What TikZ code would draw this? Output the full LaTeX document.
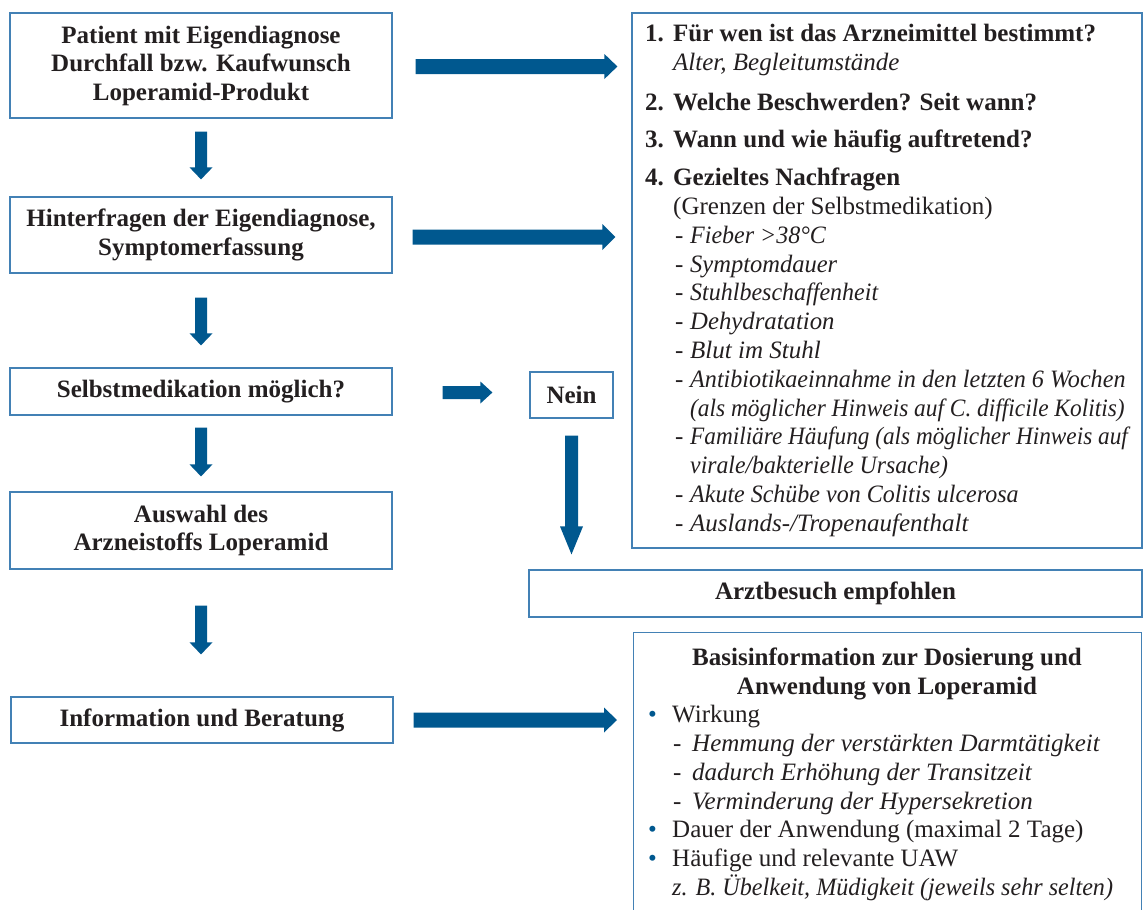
\documentclass[tikz,border=0pt]{standalone}
\usepackage{fontspec}
\usepackage{graphicx}
\setmainfont{Liberation Serif}
\usetikzlibrary{calc}
\definecolor{ablue}{HTML}{00588F}
\definecolor{bline}{HTML}{4381B5}
\definecolor{ink}{HTML}{231F20}
\newcommand\hblockarrow[5]{%
  \fill[ablue] let \p1=#1, \p2=#2 in
    (\x1,\y1+#3) -- (\x2-#5,\y1+#3) -- (\x2-#5,\y1+#4) -- (\x2,\y1)
    -- (\x2-#5,\y1-#4) -- (\x2-#5,\y1-#3) -- (\x1,\y1-#3) -- cycle;}
\newcommand\vblockarrow[5]{%
  \fill[ablue] let \p1=#1, \p2=#2 in
    (\x1-#3,\y1) -- (\x1+#3,\y1) -- (\x1+#3,\y2+#5) -- (\x1+#4,\y2+#5) -- (\x1,\y2)
    -- (\x1-#4,\y2+#5) -- (\x1-#3,\y2+#5) -- cycle;}
\newcommand\sqit[2]{\scalebox{#1}[1]{\textit{#2}}}
\begin{document}
\begin{tikzpicture}[x=1pt,y=1pt,
  every node/.style={text=ink},
  box/.style={draw=bline, line width=1.2pt, rectangle, inner sep=0pt, align=center,
    font=\fontsize{25}{28.5}\selectfont\bfseries},
  ln/.style={anchor=base west, inner sep=0pt, font=\fontsize{25}{28.5}\selectfont},
  ttl/.style={anchor=base, inner sep=0pt, font=\fontsize{25}{28.5}\selectfont\bfseries}]
\useasboundingbox (0,0) rectangle (1144,-910);
\clip (0,0) rectangle (1144,-910);
% left column
\node[box, minimum width=382, minimum height=105] (b1) at (201,-65.5)
  {Patient mit Eigendiagnose\\Durchfall bzw. Kaufwunsch\\Loperamid-Produkt};
\node[box, minimum width=382, minimum height=76] (b2) at (201,-235)
  {Hinterfragen der Eigendiagnose,\\Symptomerfassung};
\node[box, minimum width=382, minimum height=47] (b3) at (201,-391.5)
  {Selbstmedikation möglich?};
\node[box, minimum width=382, minimum height=77] (b4) at (201,-530.5)
  {Auswahl des\\Arzneistoffs Loperamid};
\node[box, minimum width=382, minimum height=46] (b5) at (202,-720)
  {Information und Beratung};
% middle / right
\node[box, minimum width=83, minimum height=46] (nein) at (571.5,-395) {Nein};
\node[box, minimum width=510, minimum height=535] (r1) at (887,-280.5) {};
\node[box, minimum width=613, minimum height=47] (arzt) at (835.5,-593.5) {Arztbesuch empfohlen};
\node[box, minimum width=508, minimum height=300, anchor=north west] (r3) at (633,-632) {};
% arrows
\hblockarrow{($(b1.east)+(23,-1)$)}{($(b1.east -| r1.west)+(-14,0)$)}{7.5}{12.5}{13}
\hblockarrow{($(b2.east)+(20,-2)$)}{($(b2.east -| r1.west)+(-16,0)$)}{7.5}{13}{13}
\hblockarrow{($(b3.east)+(50,-1)$)}{($(b3.east -| nein.west)+(-37,0)$)}{6.5}{11}{12}
\hblockarrow{($(b5.east)+(20,0)$)}{($(b5.east -| r3.west)+(-16,0)$)}{7.5}{12.5}{13}
\vblockarrow{($(b1.south)+(0,-13)$)}{($(b2.north)+(0,17)$)}{6}{11.5}{12}
\vblockarrow{($(b2.south)+(0,-24)$)}{($(b3.north)+(0,22)$)}{6}{11.5}{12}
\vblockarrow{($(b3.south)+(0,-12)$)}{($(b4.north)+(0,15)$)}{6}{11.5}{12}
\vblockarrow{($(b4.south)+(0,-36)$)}{($(b5.north)+(0,42)$)}{6}{11.5}{12}
\vblockarrow{($(nein.south)+(0,-17)$)}{($(nein.south |- arzt.north)+(0,15)$)}{6.5}{11.5}{28}
% right top box text
\node[ln] (q1) at (645,-41.7) {\textbf{\makebox[28pt][l]{1.}Für wen ist das Arzneimittel bestimmt?}};
\node[ln] (q1a) at (673,-70) {\textit{Alter, Begleitumstände}};
\node[ln] (q2) at (645,-110) {\textbf{\makebox[28pt][l]{2.}Welche Beschwerden? Seit wann?}};
\node[ln] (q3) at (645,-147.7) {\textbf{\makebox[28pt][l]{3.}Wann und wie häufig auftretend?}};
\node[ln] (q4) at (645,-185.7) {\textbf{\makebox[28pt][l]{4.}Gezieltes Nachfragen}};
\node[ln] (q4a) at (673,-214.5) {(Grenzen der Selbstmedikation)};
\node[ln] (d1) at (675,-243.3) {\makebox[15pt][l]{-}\sqit{0.96}{Fieber >38°C}};
\node[ln] (d2) at (675,-272.1) {\makebox[15pt][l]{-}\sqit{0.98}{Symptomdauer}};
\node[ln] (d3) at (675,-300.9) {\makebox[15pt][l]{-}\sqit{0.96}{Stuhlbeschaffenheit}};
\node[ln] (d4) at (675,-329.7) {\makebox[15pt][l]{-}\sqit{0.99}{Dehydratation}};
\node[ln] (d5) at (675,-358.5) {\makebox[15pt][l]{-}\sqit{1}{Blut im Stuhl}};
\node[ln] (d6) at (675,-387.3) {\makebox[15pt][l]{-}\sqit{0.965}{Antibiotikaeinnahme in den letzten 6 Wochen}};
\node[ln] (d6a) at (690,-416.1) {\sqit{0.935}{(als möglicher Hinweis auf C. difficile Kolitis)}};
\node[ln] (d7) at (675,-444.9) {\makebox[15pt][l]{-}\sqit{0.93}{Familiäre Häufung (als möglicher Hinweis auf}};
\node[ln] (d7a) at (690,-473.7) {\sqit{0.95}{virale/bakterielle Ursache)}};
\node[ln] (d8) at (675,-502.5) {\makebox[15pt][l]{-}\sqit{0.96}{Akute Schübe von Colitis ulcerosa}};
\node[ln] (d9) at (675,-531.3) {\makebox[15pt][l]{-}\sqit{1}{Auslands-/Tropenaufenthalt}};
% bottom right box text
\node[ttl] (t1) at (887,-665) {Basisinformation zur Dosierung und};
\node[ttl] (t2) at (887,-694) {Anwendung von Loperamid};
\node[ln] (w1) at (645,-722.6) {\makebox[27pt][l]{\hspace{3pt}\textcolor{ablue}{•}}Wirkung};
\node[ln] (w1a) at (673,-751.4) {\makebox[19pt][l]{-}\textit{Hemmung der verstärkten Darmtätigkeit}};
\node[ln] (w1b) at (673,-780.2) {\makebox[19pt][l]{-}\textit{dadurch Erhöhung der Transitzeit}};
\node[ln] (w1c) at (673,-809) {\makebox[19pt][l]{-}\textit{Verminderung der Hypersekretion}};
\node[ln] (w2) at (645,-837.8) {\makebox[27pt][l]{\hspace{3pt}\textcolor{ablue}{•}}Dauer der Anwendung (maximal 2 Tage)};
\node[ln] (w3) at (645,-866.6) {\makebox[27pt][l]{\hspace{3pt}\textcolor{ablue}{•}}Häufige und relevante UAW};
\node[ln] (w3a) at (672,-895.4) {\sqit{0.965}{z. B. Übelkeit, Müdigkeit (jeweils sehr selten)}};
\end{tikzpicture}
\end{document}
